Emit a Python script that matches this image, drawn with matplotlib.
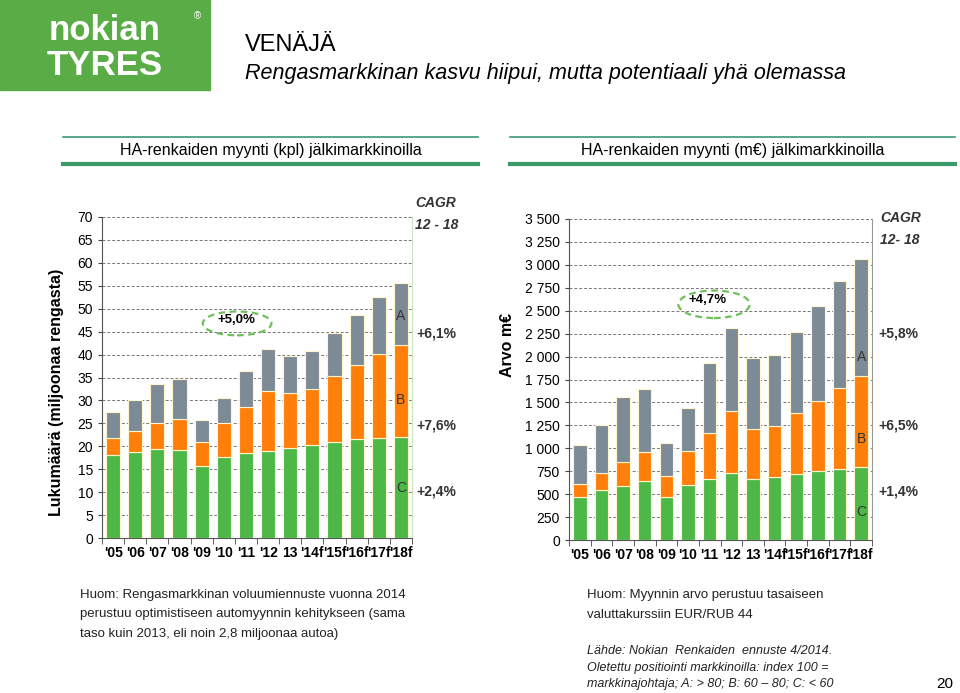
import matplotlib.pyplot as plt
from matplotlib.patches import Ellipse, Rectangle
from matplotlib.ticker import FuncFormatter
import numpy as np

plt.rcParams['font.family'] = ['Liberation Sans', 'DejaVu Sans']

years = ["'05", "'06", "'07", "'08", "'09", "'10", "'11", "'12", "13", "'14f", "'15f", "'16f", "'17f", "'18f"]

# kpl, millions of tyres: C segment, C+B cumulative, total
vol_c = [18.0, 18.8, 19.3, 19.1, 15.7, 17.6, 18.6, 19.0, 19.6, 20.3, 21.0, 21.5, 21.8, 22.0]
vol_cb = [21.8, 23.3, 25.0, 25.9, 21.0, 25.0, 28.5, 32.0, 31.6, 32.5, 35.3, 37.8, 40.2, 42.1]
vol_tot = [27.5, 30.1, 33.6, 34.6, 25.7, 30.6, 36.4, 41.3, 39.7, 40.7, 44.6, 48.7, 52.5, 55.5]

# m EUR
val_c = [465, 540, 590, 640, 470, 605, 670, 730, 660, 690, 720, 750, 775, 795]
val_cb = [610, 735, 855, 960, 700, 965, 1170, 1410, 1205, 1240, 1380, 1520, 1660, 1785]
val_tot = [1040, 1250, 1555, 1645, 1055, 1435, 1930, 2315, 1980, 2015, 2270, 2555, 2825, 3065]

GREEN = '#4db848'
ORANGE = '#ff7f0a'
GREY = '#7d8b97'

W, H = 960, 693
fig = plt.figure(figsize=(9.6, 6.93), dpi=100)


def fx(px):
    return px / W


def fy(py):
    return 1 - py / H


def stacked(ax, c, cb, tot, width):
    x = np.arange(len(c))
    c = np.array(c); cb = np.array(cb); tot = np.array(tot)
    kw = dict(width=width, edgecolor='#fff6d0', linewidth=0.8, zorder=3)
    ax.bar(x, c, color=GREEN, **kw)
    ax.bar(x, cb - c, bottom=c, color=ORANGE, **kw)
    ax.bar(x, tot - cb, bottom=cb, color=GREY, **kw)
    ax.set_xlim(-0.5, len(c) - 0.5)
    ax.set_xticks(x)
    ax.set_xticklabels(years, fontweight='bold', fontsize=10)
    ax.set_xticks(np.arange(-0.5, len(c)), minor=True)
    ax.tick_params(axis='x', which='major', length=0, pad=6)
    ax.tick_params(axis='x', which='minor', length=4, direction='out', color='#444444')
    ax.tick_params(axis='y', length=3, labelsize=10, color='#444444')
    ax.yaxis.grid(True, linestyle=(0, (3, 2)), color='#777777', linewidth=0.7, zorder=0)
    ax.set_axisbelow(True)
    ax.spines['top'].set_visible(False)
    ax.spines['left'].set_color('#555555')
    ax.spines['bottom'].set_color('#555555')


# left chart
ax1 = fig.add_axes([fx(102), fy(538), fx(412 - 102), (538 - 217) / H])
stacked(ax1, vol_c, vol_cb, vol_tot, 0.64)
ax1.set_ylim(0, 70)
ax1.set_yticks(range(0, 71, 5))
ax1.spines['right'].set_color('#c8e6c0')
fig.text(fx(57), fy(392), 'Lukumäärä (miljoonaa rengasta)', rotation=90, ha='center', va='center',
         fontsize=11.5, fontweight='bold')
ax1.add_patch(Ellipse((5.6, 46.8), 3.1, 5.2, fill=False, edgecolor='#6fbf5a', linestyle=(0, (3, 2)), linewidth=1.6, zorder=4))
ax1.text(5.55, 47.5, '+5,0%', ha='center', va='center', fontsize=9.5, fontweight='bold', zorder=5)
for lbl, yv in [('A', 48.5), ('B', 30), ('C', 11)]:
    ax1.text(13, yv, lbl, ha='center', va='center', fontsize=10, color='#333333', zorder=5)

# right chart
ax2 = fig.add_axes([fx(569), fy(540), fx(872 - 569), (540 - 219) / H])
stacked(ax2, val_c, val_cb, val_tot, 0.62)
ax2.set_ylim(0, 3500)
ax2.set_yticks(range(0, 3501, 250))
ax2.yaxis.set_major_formatter(FuncFormatter(lambda v, p: f'{int(v):,}'.replace(',', ' ')))
ax2.spines['right'].set_color('#999999')
fig.text(fx(508), fy(345), 'Arvo m€', rotation=90, ha='center', va='center', fontsize=11.5, fontweight='bold')
ax2.add_patch(Ellipse((6.2, 2570), 3.3, 300, fill=False, edgecolor='#6fbf5a', linestyle=(0, (3, 2)), linewidth=1.6, zorder=4))
ax2.text(5.9, 2620, '+4,7%', ha='center', va='center', fontsize=9.5, fontweight='bold', zorder=5)
for lbl, yv in [('A', 2000), ('B', 1100), ('C', 300)]:
    ax2.text(13, yv, lbl, ha='center', va='center', fontsize=10, color='#333333', zorder=5)

# CAGR columns
for x0, items in [(415, [('CAGR', 203), ('12 - 18', 225)]), (880, [('CAGR', 218), ('12- 18', 240)])]:
    for t, yy in items:
        fig.text(fx(x0), fy(yy), t, fontsize=10, fontweight='bold', fontstyle='italic', color='#333333', va='center')
for x0, items in [(416, [('+6,1%', 334), ('+7,6%', 426), ('+2,4%', 492)]),
                  (878, [('+5,8%', 334), ('+6,5%', 426), ('+1,4%', 492)])]:
    for t, yy in items:
        fig.text(fx(x0), fy(yy), t, fontsize=10, fontweight='bold', color='#333333', va='center')

# header
fig.patches.append(Rectangle((0, fy(90)), fx(210), 90 / H, transform=fig.transFigure, color='#5aad46', zorder=0))
fig.text(fx(105), fy(40), 'nokian', ha='center', va='baseline', color='white', fontsize=25, fontweight='bold')
fig.text(fx(197), fy(16), '®', ha='center', va='center', color='white', fontsize=7)
fig.text(fx(105), fy(75), 'TYRES', ha='center', va='baseline', color='white', fontsize=25, fontweight='black')
fig.text(fx(245), fy(45), 'VENÄJÄ', fontsize=17, va='center')
fig.text(fx(245), fy(73), 'Rengasmarkkinan kasvu hiipui, mutta potentiaali yhä olemassa',
         fontsize=15.5, fontstyle='italic', va='center')

for xa, xb, title in [(63, 478, 'HA-renkaiden myynti (kpl) jälkimarkkinoilla'),
                      (510, 955, 'HA-renkaiden myynti (m€) jälkimarkkinoilla')]:
    fig.add_artist(plt.Line2D([fx(xa), fx(xb)], [fy(137), fy(137)], color='#3a9a7a', linewidth=1.2))
    fig.add_artist(plt.Line2D([fx(xa), fx(xb)], [fy(164), fy(164)], color='#3a9a6a', linewidth=3))
    fig.text(fx((xa + xb) / 2), fy(151), title, ha='center', va='center', fontsize=11.5)

# notes
notes_l = ['Huom: Rengasmarkkinan voluumiennuste vuonna 2014',
           'perustuu optimistiseen automyynnin kehitykseen (sama',
           'taso kuin 2013, eli noin 2,8 miljoonaa autoa)']
for i, t in enumerate(notes_l):
    fig.text(fx(80), fy(595 + i * 19.5), t, fontsize=9.5, va='center', color='#222222')
for i, t in enumerate(['Huom: Myynnin arvo perustuu tasaiseen', 'valuttakurssiin EUR/RUB 44']):
    fig.text(fx(587), fy(595 + i * 19.5), t, fontsize=9.5, va='center', color='#222222')
src = ['Lähde: Nokian  Renkaiden  ennuste 4/2014.',
       'Oletettu positiointi markkinoilla: index 100 =',
       'markkinajohtaja; A: > 80; B: 60 – 80; C: < 60']
for i, t in enumerate(src):
    fig.text(fx(587), fy(651 + i * 16.5), t, fontsize=9, fontstyle='italic', va='center', color='#222222')
fig.text(fx(945), fy(684), '20', fontsize=11, va='center', ha='center')

fig.savefig('out.png', dpi=100)
